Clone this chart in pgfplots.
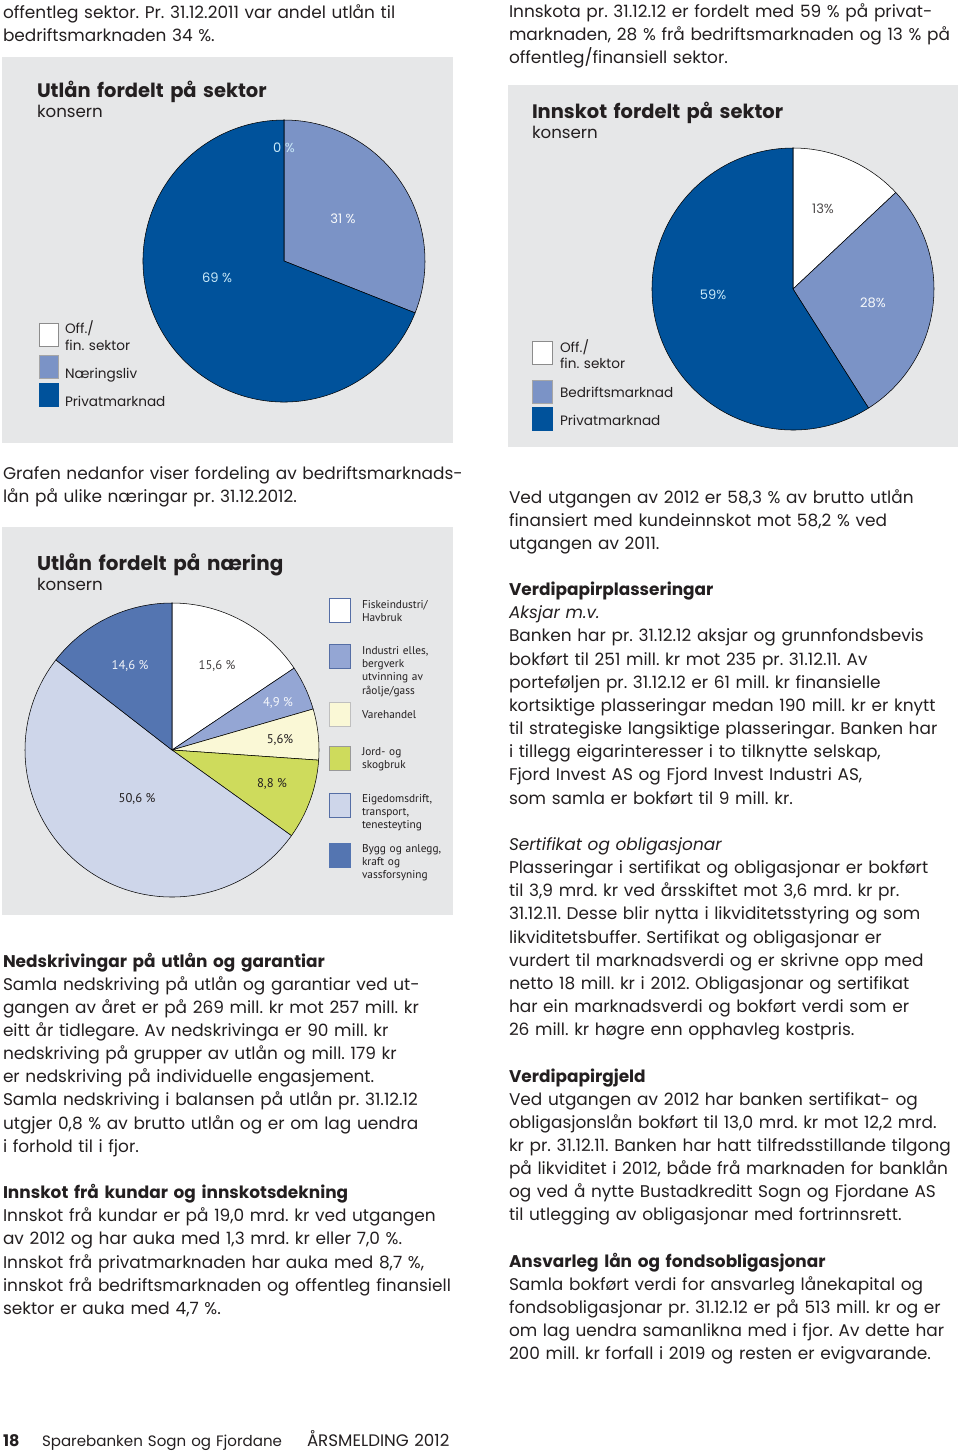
\documentclass[border=0pt]{standalone}
\usepackage{pgfplots}
\pgfplotsset{compat=1.18}
\usepackage{fontspec}
\setmainfont{Poppins}
\newfontfamily\myriad{PT Sans}
\frenchspacing
\definecolor{txt}{RGB}{35,31,32}
\definecolor{boxgray}{RGB}{230,231,232}
\definecolor{darkblue}{RGB}{0,82,155}
\definecolor{midblue}{RGB}{123,147,198}
\definecolor{lightlab}{RGB}{200,232,248}
\definecolor{edge}{RGB}{55,60,80}
\definecolor{edgeb}{RGB}{85,110,165}
\definecolor{bygg}{RGB}{84,117,177}
\definecolor{industri}{RGB}{148,166,212}
\definecolor{eigedom}{RGB}{206,214,234}
\definecolor{varehandel}{RGB}{250,248,214}
\definecolor{jord}{RGB}{206,219,92}
% #1 colour, #2 cumulative percent before the slice, #3 percent of the slice, #4 radius
\newcommand\pieslice[4]{%
  \filldraw[fill=#1] (axis cs:0,0) -- ++({90-3.6*(#2)}:#4)
    arc[start angle={90-3.6*(#2)}, delta angle={-3.6*(#3)}, radius=#4] -- cycle;}
\newcommand\body{\fontsize{12.7pt}{17.37pt}\selectfont}
\newcommand\ttl{\fontsize{14.6pt}{18pt}\selectfont\bfseries}
\newcommand\sub{\fontsize{12.5pt}{15pt}\selectfont}
\newcommand\leg{\fontsize{10.2pt}{12pt}\selectfont}
\newcommand\lab{\fontsize{9.8pt}{12pt}\selectfont}
\newcommand\mlab{\myriad\fontsize{9.5pt}{12pt}\selectfont}
\tikzset{
  t/.style={anchor=base west, inner sep=0pt, outer sep=0pt, text width=640pt, align=left, text=txt},
  l/.style={anchor=base, inner sep=0pt, outer sep=0pt},
}
\pgfplotsset{pie/.style={hide axis, scale only axis, clip=false,
  xmin=-1, xmax=1, ymin=-1, ymax=1, anchor=center}}
\begin{document}
\begin{tikzpicture}
\begin{scope}[x=0.75pt,y=-0.75pt]
\fill[boxgray] (2,57) rectangle (453,443);
\fill[boxgray] (508,85) rectangle (958,447);
\fill[boxgray] (2,527) rectangle (453,915);
\coordinate (p1) at (284,261);
\coordinate (p2) at (793,289);
\coordinate (p3) at (172,750);
\end{scope}

% Utlån fordelt på sektor: Off./fin. sektor 0, Næringsliv 31, Privatmarknad 69
\begin{axis}[pie, at={(p1)}, width=211.5pt, height=211.5pt, every path/.append style={draw=edge, line width=0.5pt}]
  \pieslice{white}{0}{0}{105.75pt}
  \pieslice{midblue}{0}{31}{105.75pt}
  \pieslice{darkblue}{31}{69}{105.75pt}
\end{axis}
% Innskot fordelt på sektor: Off./fin. sektor 13, Bedriftsmarknad 28, Privatmarknad 59
\begin{axis}[pie, at={(p2)}, width=211.5pt, height=211.5pt, every path/.append style={draw=edge, line width=0.5pt}]
  \pieslice{white}{0}{13}{105.75pt}
  \pieslice{midblue}{13}{28}{105.75pt}
  \pieslice{darkblue}{41}{59}{105.75pt}
\end{axis}
% Utlån fordelt på næring
\begin{axis}[pie, at={(p3)}, width=220.5pt, height=220.5pt, every path/.append style={draw=edgeb, line width=0.5pt}]
  \pieslice{white}{0}{15.6}{110.25pt}
  \pieslice{industri}{15.6}{4.9}{110.25pt}
  \pieslice{varehandel}{20.5}{5.6}{110.25pt}
  \pieslice{jord}{26.1}{8.8}{110.25pt}
  \pieslice{eigedom}{34.9}{50.6}{110.25pt}
  \pieslice{bygg}{85.5}{14.5}{110.25pt}
\end{axis}

\begin{scope}[x=0.75pt,y=-0.75pt]
% top texts
\node[t, font=\body] at (3,18) {offentleg sektor. Pr. 31.12.2011 var andel utlån til\\bedriftsmarknaden 34 \%.};
\node[t, font=\body] at (509,17) {Innskota pr. 31.12.12 er fordelt med 59 \% på privat-\\marknaden, 28 \% frå bedriftsmarknaden og 13 \% på\\offentleg/finansiell sektor.};

% box 1
\node[t, font=\ttl] at (37,97) {Utlån fordelt på sektor};
\node[t, font=\sub] at (37,117) {konsern};
\node[l, font=\lab, text=lightlab] at (284,152) {0 \%};
\node[l, font=\lab, text=white!95!midblue] at (343,223) {31 \%};
\node[l, font=\lab, text=lightlab] at (217,282) {69 \%};
\filldraw[fill=white, draw=black!45, line width=0.5pt] (39,323) rectangle (58,346);
\filldraw[fill=midblue, draw=black!35, line width=0.5pt] (39,355) rectangle (58,378);
\filldraw[fill=darkblue, draw=darkblue, line width=0.5pt] (39,383) rectangle (58,406);
\node[t, font=\leg] at (65,333) {Off./};
\node[t, font=\leg] at (65,350) {fin. sektor};
\node[t, font=\leg] at (65,378) {Næringsliv};
\node[t, font=\leg] at (65,406) {Privatmarknad};

% box 2
\node[t, font=\ttl] at (532,118) {Innskot fordelt på sektor};
\node[t, font=\sub] at (532,138) {konsern};
\node[l, font=\lab, text=txt!80] at (823,213) {13\%};
\node[l, font=\lab, text=white!95!midblue] at (873,307) {28\%};
\node[l, font=\lab, text=lightlab] at (713,299) {59\%};
\filldraw[fill=white, draw=black!45, line width=0.5pt] (532,341) rectangle (552,364);
\filldraw[fill=midblue, draw=black!35, line width=0.5pt] (532,380) rectangle (552,403);
\filldraw[fill=darkblue, draw=darkblue, line width=0.5pt] (532,407) rectangle (552,430);
\node[t, font=\leg] at (560,352) {Off./};
\node[t, font=\leg] at (560,368) {fin. sektor};
\node[t, font=\leg] at (560,397) {Bedriftsmarknad};
\node[t, font=\leg] at (560,425) {Privatmarknad};

% middle left text
\node[t, font=\body] at (3,479) {Grafen nedanfor viser fordeling av bedriftsmarknads-\\lån på ulike næringar pr. 31.12.2012.};

% box 3
\node[t, font=\fontsize{14.95pt}{18pt}\selectfont\bfseries] at (37,570) {Utlån fordelt på næring};
\node[t, font=\sub] at (37,590) {konsern};
\node[l, font=\mlab, text=white!92!bygg] at (130,669) {14,6 \%};
\node[l, font=\mlab, text=txt!85] at (217,669) {15,6 \%};
\node[l, font=\mlab, text=white!92!industri] at (278,706) {4,9 \%};
\node[l, font=\mlab, text=txt] at (280,743) {5,6\%};
\node[l, font=\mlab, text=txt] at (272,787) {8,8 \%};
\node[l, font=\mlab, text=txt] at (137,802) {50,6 \%};
\filldraw[fill=white, draw=edgeb, line width=0.5pt] (329,598) rectangle (350,622);
\filldraw[fill=industri, draw=edgeb, line width=0.5pt] (329,644) rectangle (350,668);
\filldraw[fill=varehandel, draw=black!25, line width=0.5pt] (329,702) rectangle (350,726);
\filldraw[fill=jord, draw=black!40, line width=0.5pt] (329,746) rectangle (350,770);
\filldraw[fill=eigedom, draw=edgeb, line width=0.5pt] (329,793) rectangle (350,817);
\filldraw[fill=bygg, draw=bygg, line width=0.5pt] (329,843) rectangle (350,867);
\begin{scope}[every node/.style={t, font=\myriad\fontsize{8.5pt}{10.1pt}\selectfont}]
\node at (362,608) {Fiskeindustri/\\Havbruk};
\node at (362,654) {Industri elles,\\bergverk\\utvinning av\\råolje/gass};
\node at (362,718) {Varehandel};
\node at (362,755) {Jord- og\\skogbruk};
\node at (362,802) {Eigedomsdrift,\\transport,\\tenesteyting};
\node at (362,852) {Bygg og anlegg,\\kraft og\\vassforsyning};
\end{scope}

% bottom left text
\node[t, font=\body] at (3,967) {\textbf{Nedskrivingar på utlån og garantiar}\\
Samla nedskriving på utlån og garantiar ved ut-\\
gangen av året er på 269 mill. kr mot 257 mill. kr\\
eitt år tidlegare. Av nedskrivinga er 90 mill. kr\\
nedskriving på grupper av utlån og mill. 179 kr\\
er nedskriving på individuelle engasjement.\\
Samla nedskriving i balansen på utlån pr. 31.12.12\\
utgjer 0,8 \% av brutto utlån og er om lag uendra\\
i forhold til i fjor.\\[17.37pt]
\textbf{Innskot frå kundar og innskotsdekning}\\
Innskot frå kundar er på 19,0 mrd. kr ved utgangen\\
av 2012 og har auka med 1,3 mrd. kr eller 7,0 \%.\\
Innskot frå privatmarknaden har auka med 8,7 \%,\\
innskot frå bedriftsmarknaden og offentleg finansiell\\
sektor er auka med 4,7 \%.};

% right column
\node[t, font=\body] at (509,503) {Ved utgangen av 2012 er 58,3 \% av brutto utlån\\
finansiert med kundeinnskot mot 58,2 \% ved\\
utgangen av 2011.\\[17.37pt]
\textbf{Verdipapirplasseringar}\\
\textit{Aksjar m.v.}\\
Banken har pr. 31.12.12 aksjar og grunnfondsbevis\\
bokført til 251 mill. kr mot 235 pr. 31.12.11. Av\\
porteføljen pr. 31.12.12 er 61 mill. kr finansielle\\
kortsiktige plasseringar medan 190 mill. kr er knytt\\
til strategiske langsiktige plasseringar. Banken har\\
i tillegg eigarinteresser i to tilknytte selskap,\\
Fjord Invest AS og Fjord Invest Industri AS,\\
som samla er bokført til 9 mill. kr.\\[17.37pt]
\textit{Sertifikat og obligasjonar}\\
Plasseringar i sertifikat og obligasjonar er bokført\\
til 3,9 mrd. kr ved årsskiftet mot 3,6 mrd. kr pr.\\
31.12.11. Desse blir nytta i likviditetsstyring og som\\
likviditetsbuffer. Sertifikat og obligasjonar er\\
vurdert til marknadsverdi og er skrivne opp med\\
netto 18 mill. kr i 2012. Obligasjonar og sertifikat\\
har ein marknadsverdi og bokført verdi som er\\
26 mill. kr høgre enn opphavleg kostpris.\\[17.37pt]
\textbf{Verdipapirgjeld}\\
Ved utgangen av 2012 har banken sertifikat- og\\
obligasjonslån bokført til 13,0 mrd. kr mot 12,2 mrd.\\
kr pr. 31.12.11. Banken har hatt tilfredsstillande tilgong\\
på likviditet i 2012, både frå marknaden for banklån\\
og ved å nytte Bustadkreditt Sogn og Fjordane AS\\
til utlegging av obligasjonar med fortrinnsrett.\\[17.37pt]
\textbf{Ansvarleg lån og fondsobligasjonar}\\
Samla bokført verdi for ansvarleg lånekapital og\\
fondsobligasjonar pr. 31.12.12 er på 513 mill. kr og er\\
om lag uendra samanlikna med i fjor. Av dette har\\
200 mill. kr forfall i 2019 og resten er evigvarande.};

% footer
\node[t, font=\fontsize{12pt}{14pt}\selectfont\bfseries] at (3,1446) {18};
\node[t, font=\fontsize{11.3pt}{14pt}\selectfont] at (42,1446) {Sparebanken Sogn og Fjordane};
\node[t, font=\fontsize{12.5pt}{14pt}\selectfont] at (307,1446) {ÅRSMELDING 2012};
\end{scope}
\pgfresetboundingbox
\useasboundingbox (0,0) rectangle (720pt,-1089.75pt);
\end{tikzpicture}
\end{document}
